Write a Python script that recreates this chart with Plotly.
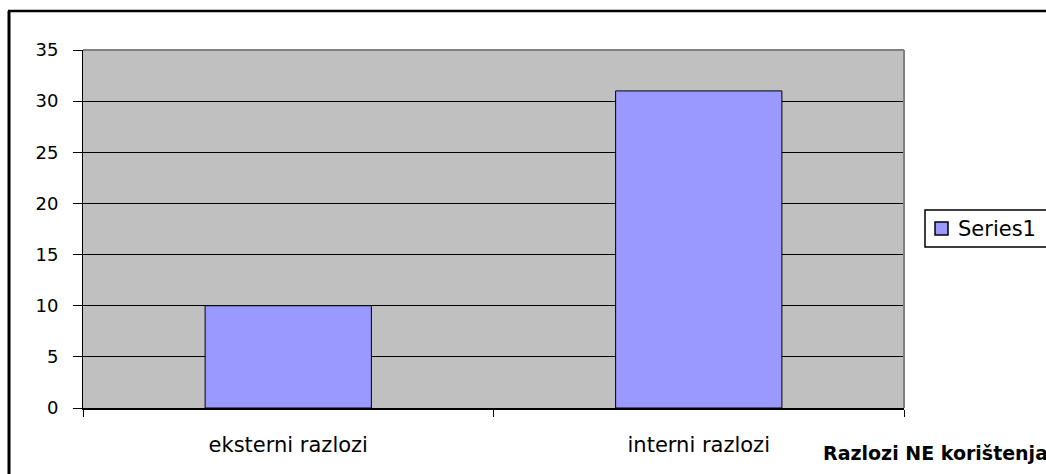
import plotly.graph_objects as go

categories = ["eksterni razlozi", "interni razlozi"]
values = [10, 31]
series_name = "Series1"
y_ticks = [0, 5, 10, 15, 20, 25, 30, 35]
x_title = "Razlozi NE korištenja"

L, R, T, B = 83, 142, 50, 66
W, H = 1046, 474
pw, ph = W - L - R, H - T - B
BAR_COLOR = "#9999FF"

def px_x(p):
    return (p - L) / pw

def px_y(p):
    return (H - B - p) / ph

FONT = "DejaVu Sans, Arial"

fig = go.Figure(go.Bar(
    x=categories, y=values, name=series_name,
    marker=dict(color=BAR_COLOR, line=dict(color="black", width=1)),
    showlegend=False,
))

fig.update_layout(
    width=W, height=H,
    margin=dict(l=L, r=R, t=T, b=B),
    paper_bgcolor="white", plot_bgcolor="#C0C0C0",
    font=dict(family=FONT, size=18, color="black"),
    bargap=0.595,
    showlegend=False,
    xaxis=dict(type="category", tickson="boundaries", ticks="outside", ticklen=7,
               tickcolor="black", tickwidth=1, showline=True, linecolor="black", linewidth=2,
               showgrid=False, ticklabelstandoff=17, tickfont=dict(size=21, family=FONT)),
    yaxis=dict(range=[0, 35], tickvals=y_ticks, ticks="outside", ticklen=9,
               tickcolor="black", tickwidth=1, showline=True, linecolor="black", linewidth=1,
               showgrid=True, gridcolor="black", gridwidth=1, zeroline=False,
               tickfont=dict(size=18, family=FONT), ticklabelstandoff=11),
)

# plot area border (top and right gray)
fig.add_shape(type="line", xref="paper", yref="paper", x0=0, x1=1, y0=1, y1=1,
              line=dict(color="#808080", width=2), layer="above")
fig.add_shape(type="line", xref="paper", yref="paper", x0=1, x1=1, y0=0, y1=1,
              line=dict(color="#808080", width=2), layer="above")
# outer chart frame (left and top)
fig.add_shape(type="line", xref="paper", yref="paper", x0=px_x(9), x1=px_x(9),
              y0=px_y(11), y1=px_y(480), line=dict(color="black", width=3))
fig.add_shape(type="line", xref="paper", yref="paper", x0=px_x(8), x1=px_x(1050),
              y0=px_y(11), y1=px_y(11), line=dict(color="black", width=2.5))

# legend (drawn manually so it may run past the right edge like the reference)
fig.add_shape(type="rect", xref="paper", yref="paper", x0=px_x(925), x1=px_x(1060),
              y0=px_y(247), y1=px_y(210), line=dict(color="black", width=1.5),
              fillcolor="white")
fig.add_shape(type="rect", xref="paper", yref="paper", x0=px_x(935), x1=px_x(948),
              y0=px_y(235), y1=px_y(222), line=dict(color="black", width=1.5),
              fillcolor=BAR_COLOR)
fig.add_annotation(text=series_name, xref="paper", yref="paper",
                   x=px_x(956), y=px_y(229), xanchor="left", yanchor="middle",
                   showarrow=False, font=dict(size=21, color="black", family=FONT))

fig.add_annotation(text="<b>" + x_title + "</b>", xref="paper", yref="paper",
                   x=px_x(821), y=px_y(453), xanchor="left", yanchor="middle",
                   showarrow=False, font=dict(size=19, color="black", family=FONT))

fig.write_html("out.html", config={"displayModeBar": False},
               post_script="document.body.style.margin='0';")
